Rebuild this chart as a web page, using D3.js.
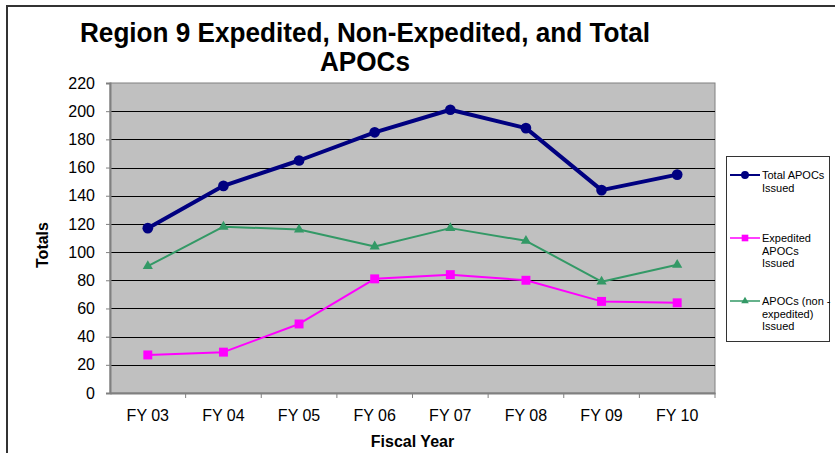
<!DOCTYPE html>
<html>
<head>
<meta charset="utf-8">
<script src="https://cdn.jsdelivr.net/npm/d3@7"></script>
<style>
  html, body { margin: 0; padding: 0; background: #fff; }
  svg { display: block; font-family: Arial, "Liberation Sans", sans-serif; }
</style>
</head>
<body>
<div id="chart"></div>
<script>
const years = ['FY 03', 'FY 04', 'FY 05', 'FY 06', 'FY 07', 'FY 08', 'FY 09', 'FY 10'];
const totalIssued = [117, 147, 165, 185, 201, 188, 144, 155];
const expeditedIssued = [27, 29, 49, 81, 84, 80, 65, 64];
const nonExpeditedIssued = [90, 118, 116, 104, 117, 108, 79, 91];
const yTicks = [0, 20, 40, 60, 80, 100, 120, 140, 160, 180, 200, 220];

const series = [
  { name: ['Total APOCs', 'Issued'], values: totalIssued, color: '#000080', width: 4, symbol: d3.symbolCircle, size: 90 },
  { name: ['Expedited', 'APOCs', 'Issued'], values: expeditedIssued, color: '#ff00ff', width: 2, symbol: d3.symbolSquare, size: 80 },
  { name: ['APOCs (non -', 'expedited)', 'Issued'], values: nonExpeditedIssued, color: '#339966', width: 2, symbol: d3.symbolTriangle, size: 45 }
];

const width = 835, height = 453;
const plot = { left: 110, right: 715, top: 83, bottom: 393 };

const svg = d3.select('#chart').append('svg')
  .attr('width', width)
  .attr('height', height);

// outer chart border (runs off the right and bottom edges)
svg.append('rect')
  .attr('x', 7).attr('y', 6)
  .attr('width', 860).attr('height', 480)
  .attr('fill', 'none')
  .attr('stroke', '#333')
  .attr('stroke-width', 2);

const x = d3.scaleBand().domain(years).range([plot.left, plot.right]);
const y = d3.scaleLinear().domain([0, 220]).range([plot.bottom, plot.top]);

// plot area
svg.append('rect')
  .attr('x', plot.left).attr('y', plot.top)
  .attr('width', plot.right - plot.left).attr('height', plot.bottom - plot.top)
  .attr('fill', '#c0c0c0')
  .attr('stroke', '#808080');

// gridlines
svg.append('g')
  .selectAll('line')
  .data(yTicks.filter(d => d > 0 && d < 220))
  .join('line')
  .attr('x1', plot.left).attr('x2', plot.right)
  .attr('y1', d => Math.round(y(d)) + 0.5).attr('y2', d => Math.round(y(d)) + 0.5)
  .attr('stroke', '#000')
  .attr('stroke-width', 1);

// y axis
const yAxis = svg.append('g')
  .attr('transform', `translate(${plot.left},0)`)
  .call(d3.axisLeft(y).tickValues(yTicks).tickSize(4).tickPadding(11));
yAxis.select('.domain').attr('stroke', '#808080').attr('stroke-width', 2);
yAxis.selectAll('.tick line').attr('stroke', '#808080');
yAxis.selectAll('.tick text')
  .attr('font-size', 16).attr('fill', '#000')
  .attr('font-family', 'Arial, "Liberation Sans", sans-serif');

// x axis: ticks at category boundaries
const xAxis = svg.append('g')
  .attr('transform', `translate(0,${plot.bottom})`)
  .call(d3.axisBottom(x).tickSize(0).tickPadding(17));
xAxis.select('.domain').attr('stroke', '#808080').attr('stroke-width', 2);
xAxis.selectAll('.tick text')
  .attr('font-size', 16).attr('fill', '#000')
  .attr('font-family', 'Arial, "Liberation Sans", sans-serif');
xAxis.append('g')
  .selectAll('line')
  .data(years.slice(1).concat(['end']))
  .join('line')
  .attr('x1', (d, i) => plot.left + x.bandwidth() * (i + 1))
  .attr('x2', (d, i) => plot.left + x.bandwidth() * (i + 1))
  .attr('y1', 0).attr('y2', 5)
  .attr('stroke', '#808080');

// series lines and markers
const line = d3.line()
  .x((d, i) => x(years[i]) + x.bandwidth() / 2)
  .y(d => y(d));

series.forEach(s => {
  svg.append('path')
    .datum(s.values)
    .attr('d', line)
    .attr('fill', 'none')
    .attr('stroke', s.color)
    .attr('stroke-width', s.width)
    .attr('stroke-linejoin', 'round');
  svg.append('g')
    .selectAll('path')
    .data(s.values)
    .join('path')
    .attr('transform', (d, i) => `translate(${x(years[i]) + x.bandwidth() / 2},${y(d)})`)
    .attr('d', d3.symbol().type(s.symbol).size(s.size))
    .attr('fill', s.color);
});

// title (slightly condensed, like the original)
const title = svg.append('g')
  .attr('font-size', 27)
  .attr('font-weight', 'bold')
  .attr('text-anchor', 'middle');
title.append('text')
  .attr('x', 365).attr('y', 42)
  .attr('textLength', 570).attr('lengthAdjust', 'spacingAndGlyphs')
  .text('Region 9 Expedited, Non-Expedited, and Total');
title.append('text')
  .attr('x', 365).attr('y', 71)
  .attr('textLength', 90).attr('lengthAdjust', 'spacingAndGlyphs')
  .text('APOCs');

// axis titles
svg.append('text')
  .attr('transform', 'translate(48,245) rotate(-90)')
  .attr('text-anchor', 'middle')
  .attr('font-size', 16)
  .attr('font-weight', 'bold')
  .text('Totals');

svg.append('text')
  .attr('x', (plot.left + plot.right) / 2)
  .attr('y', 447)
  .attr('text-anchor', 'middle')
  .attr('font-size', 16)
  .attr('font-weight', 'bold')
  .text('Fiscal Year');

// legend
const legend = svg.append('g');
legend.append('rect')
  .attr('x', 726.5).attr('y', 156.5)
  .attr('width', 103).attr('height', 185)
  .attr('fill', '#fff')
  .attr('stroke', '#333');

const legendY = [175, 238, 301];
series.forEach((s, k) => {
  const g = legend.append('g').attr('transform', `translate(0,${legendY[k]})`);
  g.append('line')
    .attr('x1', 730).attr('x2', 760)
    .attr('stroke', s.color).attr('stroke-width', s.width > 2 ? 2 : 1.5);
  g.append('path')
    .attr('transform', 'translate(745,0)')
    .attr('d', d3.symbol().type(s.symbol).size(s.size * 0.55))
    .attr('fill', s.color);
  const t = g.append('text').attr('font-size', 11).attr('fill', '#000');
  s.name.forEach((ln, j) => {
    t.append('tspan').attr('x', 762).attr('y', 4 + j * 12.5).text(ln);
  });
});
</script>
</body>
</html>
